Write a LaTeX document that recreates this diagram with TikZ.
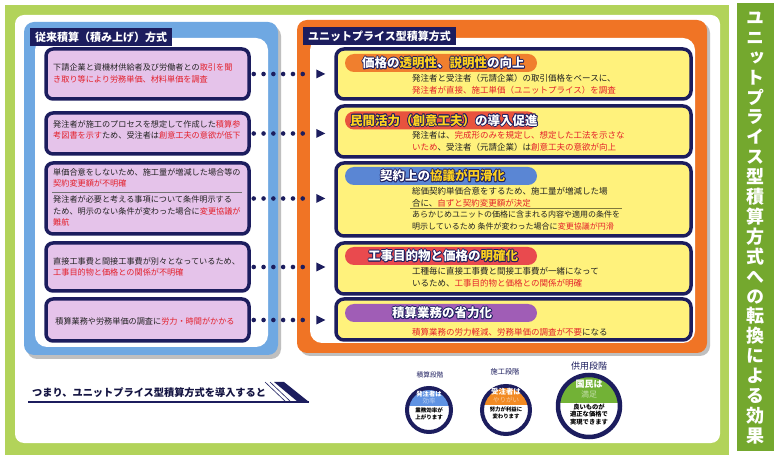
\documentclass[tikz,border=0pt]{standalone}
\usepackage{fontspec}
\setmainfont{Noto Sans CJK JP}
\newfontfamily\jpv{Noto Sans CJK JP}[RawFeature=+vert]
\usetikzlibrary{calc}
\definecolor{navy}{HTML}{1C1D5E}
\definecolor{framegreen}{HTML}{B2D35A}
\definecolor{bargreen}{HTML}{74A82E}
\definecolor{panelblue}{HTML}{6FA8E2}
\definecolor{lav}{HTML}{E5C3EA}
\definecolor{redtxt}{HTML}{E3202B}
\definecolor{panelorange}{HTML}{F07425}
\definecolor{yelbox}{HTML}{FFF27C}
\definecolor{pillorange}{HTML}{F07F2E}
\definecolor{pillred}{HTML}{E8533E}
\definecolor{pillblue}{HTML}{5A86D4}
\definecolor{pillredb}{HTML}{E94A4E}
\definecolor{pillpurple}{HTML}{A05DB6}
\definecolor{hiyel}{HTML}{FFD21E}
\definecolor{txt}{HTML}{222222}
\definecolor{cblue}{HTML}{5F93E3}
\definecolor{corange}{HTML}{F28A22}
\definecolor{cgreen}{HTML}{72B236}
\newcommand\rd[1]{\textcolor{redtxt}{#1}}
\newcommand\yel[1]{#1}
\newsavebox\halobox
\newcommand\pilltext[1]{%
  \sbox\halobox{\color{navy}\renewcommand\yel[1]{##1}#1}%
  \rlap{\kern-.9pt\usebox\halobox}\rlap{\kern.9pt\usebox\halobox}%
  \rlap{\raisebox{.9pt}{\usebox\halobox}}\rlap{\raisebox{-.9pt}{\usebox\halobox}}%
  \rlap{\kern-.65pt\raisebox{.65pt}{\usebox\halobox}}\rlap{\kern.65pt\raisebox{.65pt}{\usebox\halobox}}%
  \rlap{\kern-.65pt\raisebox{-.65pt}{\usebox\halobox}}\rlap{\kern.65pt\raisebox{-.65pt}{\usebox\halobox}}%
  {\color{white}\renewcommand\yel[1]{\textcolor{hiyel}{##1}}#1}}
\tikzset{
  lbox/.style={draw=navy, line width=3.5pt, fill=lav, rounded corners=7pt, minimum width=203pt},
  rbox/.style={draw=navy, line width=3.5pt, fill=yelbox, rounded corners=8pt, minimum width=355pt},
  pill/.style={rounded corners=9pt, minimum width=192pt, minimum height=18pt, inner sep=0pt},
  ptext/.style={anchor=west, inner sep=0pt, font=\fontsize{12.5}{14}\selectfont\bfseries},
  body/.style={anchor=west, inner sep=0pt, align=left, text=txt, font=\fontsize{8.15}{11.2}\selectfont},
  rbody/.style={anchor=west, inner sep=0pt, align=left, text=txt, font=\fontsize{8.5}{12}\selectfont},
  ttl/.style={fill=navy, text=white, font=\fontsize{11}{12}\selectfont\bfseries, anchor=north west, inner xsep=5pt, minimum height=17pt},
  dotline/.style={navy, line width=4.6pt, line cap=round, dash pattern=on 0pt off 9.8pt},
  ctext/.style={inner sep=0pt, align=center},
}
\begin{document}
\begin{tikzpicture}[x=1pt,y=-1pt]
\useasboundingbox (0,0) rectangle (780,457);
\fill[white] (0,0) rectangle (780,457);
% frame
\fill[framegreen] (5,5) rectangle (729,455);
\fill[white, rounded corners=9pt] (15,15) rectangle (720,443);
\fill[bargreen] (737,3) rectangle (774,451);
\node[inner sep=0pt, align=center, text=white, font=\jpv\fontsize{18}{19.9}\selectfont\bfseries] (vt) at (755.5,228)
 {ユ\\ニ\\ッ\\ト\\プ\\ラ\\イ\\ス\\型\\積\\算\\方\\式\\へ\\の\\転\\換\\に\\よ\\る\\効\\果};

% left panel
\fill[black!25, rounded corners=10pt] (27,26) rectangle (281,359);
\fill[panelblue, rounded corners=10pt] (24,22) rectangle (278,355);
\fill[white, rounded corners=12pt] (35,38) rectangle (268,347);
\node[ttl] (lt) at (30,28) {従来積算（積み上げ）方式};

\node[lbox, minimum height=50pt] (lb1) at (147.5,74) {};
\node[lbox, minimum height=41pt] (lb2) at (147.5,133.5) {};
\node[lbox, minimum height=71pt] (lb3) at (147.5,198.5) {};
\node[lbox, minimum height=48pt] (lb4) at (147.5,267) {};
\node[lbox, minimum height=42pt] (lb5) at (147.5,320) {};
\draw[black!55, line width=0.6pt] (52,192) -- (242,192);

\node[body] (lt1) at (53,73.5) {下請企業と資機材供給者及び労働者との\rd{取引を聞}\\\rd{き取り等により労務単価、材料単価を調査}};
\node[body] (lt2) at (53,129.5) {発注者が施工のプロセスを想定して作成した\rd{積算参}\\\rd{考図書を示す}ため、受注者は\rd{創意工夫の意欲が低下}};
\node[body] (lt3a) at (53,178) {単価合意をしないため、施工量が増減した場合等の\\\rd{契約変更額が不明確}};
\node[body] (lt3b) at (53,211) {発注者が必要と考える事項について条件明示する\\ため、明示のない条件が変わった場合に\rd{変更協議が}\\\rd{難航}};
\node[body] (lt4) at (53,267) {直接工事費と間接工事費が別々となっているため、\\\rd{工事目的物と価格との関係が不明確}};
\node[body, anchor=center] (lt5) at (145,321) {積算業務や労務単価の調査に\rd{労力・時間がかかる}};

% right panel
\fill[black!25, rounded corners=10pt] (300,23) rectangle (710,356);
\fill[panelorange, rounded corners=10pt] (297,20) rectangle (707,353);
\fill[white, rounded corners=12pt] (310,38) rectangle (695,343);
\node[ttl] (rt) at (303,27) {ユニットプライス型積算方式};

\node[rbox, minimum height=50pt] (rb1) at (513.5,74) {};
\node[rbox, minimum height=51pt] (rb2) at (513.5,131.5) {};
\node[rbox, minimum height=73pt] (rb3) at (513.5,199.5) {};
\node[rbox, minimum height=51pt] (rb4) at (513.5,268.5) {};
\node[rbox, minimum height=41pt] (rb5) at (513.5,319.5) {};
\draw[black!50!yelbox, line width=0.7pt] (410,208) -- (622,208);

\node[pill, fill=pillorange] (p1) at (441,63) {};
\node[pill, fill=pillred] (p2) at (441,120.5) {};
\node[pill, fill=pillblue] (p3) at (441,176) {};
\node[pill, fill=pillredb] (p4) at (441,256) {};
\node[pill, fill=pillpurple] (p5) at (441,313) {};
\node[ptext] (pt1) at (362,63) {\pilltext{価格の\yel{透明性}、\yel{説明性}の向上}};
\node[ptext] (pt2) at (350,120.5) {\pilltext{\yel{民間活力（創意工夫）}の導入促進}};
\node[ptext] (pt3) at (380,176) {\pilltext{契約上の\yel{協議が円滑化}}};
\node[ptext] (pt4) at (368,256) {\pilltext{工事目的物と価格の\yel{明確化}}};
\node[ptext] (pt5) at (392,313) {\pilltext{積算業務の省力化}};

\node[rbody] (rt1) at (412,84.5) {発注者と受注者（元請企業）の取引価格をベースに、\\\rd{発注者が直接、施工単価（ユニットプライス）を調査}};
\node[rbody] (rt2) at (412,141) {発注者は、\rd{完成形のみを規定し、想定した工法を示さな}\\\rd{いため}、受注者（元請企業）は\rd{創意工夫の意欲が向上}};
\node[rbody] (rt3a) at (412,197.5) {総価契約単価合意をするため、施工量が増減した場\\合に、\rd{自ずと契約変更額が決定}};
\node[rbody, font=\fontsize{8}{11.5}\selectfont] (rt3b) at (412,220.5) {あらかじめユニットの価格に含まれる内容や適用の条件を\\明示しているため 条件が変わった場合に\rd{変更協議が円滑}};
\node[rbody] (rt4) at (412,277.5) {工種毎に直接工事費と間接工事費が一緒になって\\いるため、\rd{工事目的物と価格との関係が明確}};
\node[rbody] (rt5) at (412,332) {\rd{積算業務の労力軽減、労務単価の調査が不要}になる};

% connectors
\foreach \i in {1,...,5}{
  \coordinate (e\i) at (lb\i.east -| rb\i.west);
  \draw[dotline] ([xshift=3pt]lb\i.east) -- ([xshift=-23pt]e\i);
  \fill[navy] ([xshift=-18pt,yshift=-4.5pt]e\i) -- ([xshift=-9pt]e\i) -- ([xshift=-18pt,yshift=4.5pt]e\i) -- cycle;
}

% bottom line
\node[anchor=west, inner sep=0pt, text=navy!70!black, font=\fontsize{10.2}{12}\selectfont\bfseries] (sum) at (32,392.5) {つまり、ユニットプライス型積算方式を導入すると};
\coordinate (ul1) at (28,402);
\coordinate (ul2) at (309,402);
\draw[navy, line width=1.2pt] (ul1) -- (ul2);
\draw[navy, line width=0.6pt] ($(ul2)+(-44,-20)$) -- ($(ul2)+(-23,0)$);
\draw[navy, line width=0.6pt] ($(ul2)+(-39,-20)$) -- ($(ul2)+(-18,0)$);
\fill[navy] ($(ul2)+(-35,-20)$) -- ($(ul2)+(-25,-20)$) -- (ul2) -- ($(ul2)+(-11,0)$) -- cycle;

% stage circles
\node[text=navy, inner sep=0pt, font=\fontsize{6.7}{8}\selectfont] (s1) at (430,375) {積算段階};
\node[text=navy, inner sep=0pt, font=\fontsize{7.2}{8}\selectfont] (s2) at (505,372) {施工段階};
\node[text=navy, inner sep=0pt, font=\fontsize{9}{10}\selectfont] (s3) at (589,366) {供用段階};

\node[circle, fill=white, minimum size=44pt, inner sep=0pt] (c1) at (429,410) {};
\node[circle, fill=white, minimum size=48pt, inner sep=0pt] (c2) at (506,410) {};
\node[circle, fill=white, minimum size=63pt, inner sep=0pt] (c3) at (589,406) {};
\begin{scope}
  \clip (c1.center) circle (22pt);
  \fill[cblue] ($(c1.center)+(-30,-30)$) rectangle ($(c1.center)+(30,-4)$);
\end{scope}
\begin{scope}
  \clip (c2.center) circle (24pt);
  \fill[corange] ($(c2.center)+(-30,-30)$) rectangle ($(c2.center)+(30,-5)$);
\end{scope}
\begin{scope}
  \clip (c3.center) circle (31pt);
  \fill[cgreen] ($(c3.center)+(-40,-40)$) rectangle ($(c3.center)+(40,-3)$);
\end{scope}
\draw[navy, line width=4pt] (c1.center) circle (22pt);
\draw[navy, line width=4pt] (c2.center) circle (24pt);
\draw[navy, line width=4.5pt] (c3.center) circle (31pt);

\node[ctext, text=white, font=\fontsize{6.3}{8}\selectfont\bfseries] (c1a) at (429,394) {発注者は};
\node[ctext, text=cblue!45!white, font=\fontsize{6.5}{8}\selectfont] (c1b) at (429,401.5) {効率};
\node[ctext, text=black, font=\fontsize{5.5}{7}\selectfont\bfseries] (c1c) at (429,413.5) {業務効率が\\上がります};
\node[ctext, text=white, font=\fontsize{7.4}{9}\selectfont\bfseries] (c2a) at (506,392) {受注者は};
\node[ctext, text=corange!45!white, font=\fontsize{6.5}{8}\selectfont] (c2b) at (506,400) {やりがい};
\node[ctext, text=black, font=\fontsize{5.4}{7}\selectfont\bfseries] (c2c) at (506,412.5) {努力が利益に\\変わります};
\node[ctext, text=white, font=\fontsize{9}{10}\selectfont\bfseries] (c3a) at (589,384.5) {国民は};
\node[ctext, text=cgreen!40!white, font=\fontsize{8}{9}\selectfont] (c3b) at (589,394) {満足};
\node[ctext, text=black, font=\fontsize{6.3}{7.5}\selectfont\bfseries] (c3c) at (589,414.5) {良いものが\\適正な価格で\\実現できます};
\end{tikzpicture}
\end{document}
